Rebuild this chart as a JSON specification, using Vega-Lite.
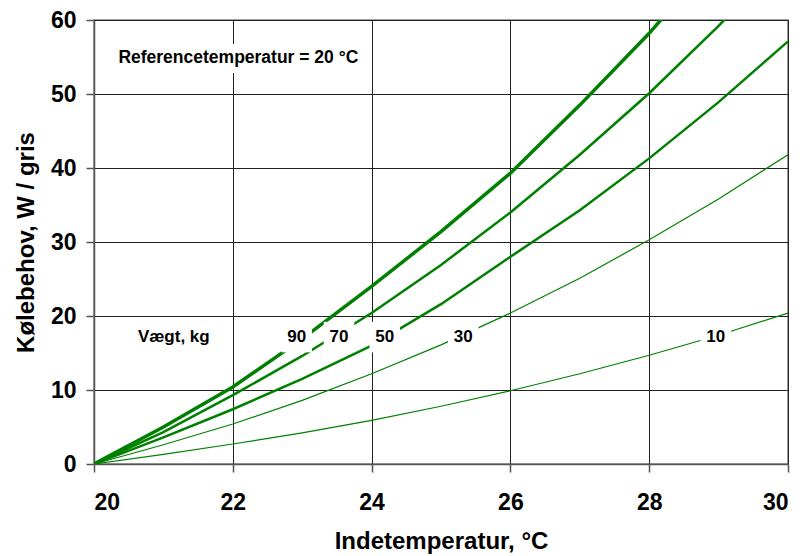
{
  "$schema": "https://vega.github.io/schema/vega-lite/v6.json",
  "width": 694,
  "height": 444,
  "autosize": {"type": "none"},
  "padding": {"left": 94, "top": 20, "right": 15, "bottom": 92},
  "background": "white",
  "config": {
    "font": "Liberation Sans",
    "view": {"stroke": "#808080", "strokeWidth": 1.5},
    "axis": {
      "grid": true,
      "gridColor": "#222222",
      "gridOpacity": 1,
      "gridWidth": 1,
      "domain": true,
      "domainColor": "#555555",
      "domainWidth": 1.5,
      "tickColor": "#555555",
      "tickSize": 8,
      "tickWidth": 1.5,
      "labelFont": "Liberation Sans",
      "labelFontSize": 23,
      "labelFontWeight": "bold",
      "labelColor": "black",
      "titleFont": "Liberation Sans",
      "titleFontSize": 24,
      "titleFontWeight": "bold",
      "titleColor": "black"
    }
  },
  "datasets": {
    "curves": [
      {"t": 20, "q": 0, "w": 10}, {"t": 21, "q": 1.3, "w": 10}, {"t": 22, "q": 2.7, "w": 10}, {"t": 23, "q": 4.2, "w": 10}, {"t": 24, "q": 5.9, "w": 10}, {"t": 25, "q": 7.8, "w": 10}, {"t": 26, "q": 9.9, "w": 10}, {"t": 27, "q": 12.2, "w": 10}, {"t": 28, "q": 14.7, "w": 10}, {"t": 29, "q": 17.4, "w": 10}, {"t": 30, "q": 20.4, "w": 10},
      {"t": 20, "q": 0, "w": 30}, {"t": 21, "q": 2.6, "w": 30}, {"t": 22, "q": 5.4, "w": 30}, {"t": 23, "q": 8.6, "w": 30}, {"t": 24, "q": 12.2, "w": 30}, {"t": 25, "q": 16.1, "w": 30}, {"t": 26, "q": 20.4, "w": 30}, {"t": 27, "q": 25.1, "w": 30}, {"t": 28, "q": 30.3, "w": 30}, {"t": 29, "q": 35.8, "w": 30}, {"t": 30, "q": 41.8, "w": 30},
      {"t": 20, "q": 0, "w": 50}, {"t": 21, "q": 3.6, "w": 50}, {"t": 22, "q": 7.4, "w": 50}, {"t": 23, "q": 11.5, "w": 50}, {"t": 24, "q": 16.0, "w": 50}, {"t": 25, "q": 21.6, "w": 50}, {"t": 26, "q": 28.0, "w": 50}, {"t": 27, "q": 34.3, "w": 50}, {"t": 28, "q": 41.3, "w": 50}, {"t": 29, "q": 48.9, "w": 50}, {"t": 30, "q": 57.1, "w": 50},
      {"t": 20, "q": 0, "w": 70}, {"t": 21, "q": 4.3, "w": 70}, {"t": 22, "q": 9.3, "w": 70}, {"t": 23, "q": 14.6, "w": 70}, {"t": 24, "q": 20.4, "w": 70}, {"t": 25, "q": 26.9, "w": 70}, {"t": 26, "q": 34.0, "w": 70}, {"t": 27, "q": 41.8, "w": 70}, {"t": 28, "q": 50.1, "w": 70}, {"t": 29, "q": 59.2, "w": 70}, {"t": 30, "q": 69.0, "w": 70},
      {"t": 20, "q": 0, "w": 90}, {"t": 21, "q": 5.0, "w": 90}, {"t": 22, "q": 10.4, "w": 90}, {"t": 23, "q": 16.9, "w": 90}, {"t": 24, "q": 24.0, "w": 90}, {"t": 25, "q": 31.4, "w": 90}, {"t": 26, "q": 39.3, "w": 90}, {"t": 27, "q": 48.5, "w": 90}, {"t": 28, "q": 58.2, "w": 90}, {"t": 29, "q": 69.0, "w": 90}, {"t": 30, "q": 80.0, "w": 90}
    ],
    "labels": [
      {"t": 22.92, "q": 17.15, "label": "90"},
      {"t": 23.53, "q": 17.15, "label": "70"},
      {"t": 24.19, "q": 17.15, "label": "50"},
      {"t": 25.32, "q": 17.15, "label": "30"},
      {"t": 28.96, "q": 17.15, "label": "10"}
    ],
    "notes": [
      {"t": 21.15, "q": 17.15, "label": "Vægt, kg"}
    ],
    "ref": [
      {"t": 22.08, "q": 54.8, "label": "Referencetemperatur = 20 °C"}
    ]
  },
  "layer": [
    {
      "data": {"name": "curves"},
      "transform": [{"filter": "datum.w <= 30"}],
      "mark": {"type": "line", "clip": true, "color": "#008000", "strokeWidth": 1.2},
      "encoding": {
        "x": {
          "field": "t", "type": "quantitative",
          "scale": {"domain": [20, 30], "nice": false, "zero": false},
          "axis": {"values": [20, 22, 24, 26, 28, 30], "format": "d", "title": "Indetemperatur, °C", "labelPadding": 19, "titlePadding": 15}
        },
        "y": {
          "field": "q", "type": "quantitative",
          "scale": {"domain": [0, 60], "nice": false},
          "axis": {"values": [0, 10, 20, 30, 40, 50, 60], "format": "d", "title": "Kølebehov, W / gris", "labelPadding": 10, "titlePadding": 12}
        },
        "detail": {"field": "w", "type": "nominal"}
      }
    },
    {
      "data": {"name": "curves"},
      "transform": [{"filter": "datum.w == 50 || datum.w == 70"}],
      "mark": {"type": "line", "clip": true, "color": "#008000", "strokeWidth": 2.5},
      "encoding": {
        "x": {"field": "t", "type": "quantitative"},
        "y": {"field": "q", "type": "quantitative"},
        "detail": {"field": "w", "type": "nominal"}
      }
    },
    {
      "data": {"name": "curves"},
      "transform": [{"filter": "datum.w == 90"}],
      "mark": {"type": "line", "clip": true, "color": "#008000", "strokeWidth": 3.5},
      "encoding": {
        "x": {"field": "t", "type": "quantitative"},
        "y": {"field": "q", "type": "quantitative"}
      }
    },
    {
      "data": {"name": "labels"},
      "mark": {"type": "point", "shape": "M-1,-1H1V1H-1Z", "filled": true, "fill": "white", "opacity": 1, "strokeWidth": 0, "size": 930},
      "encoding": {
        "x": {"field": "t", "type": "quantitative"},
        "y": {"field": "q", "type": "quantitative"}
      }
    },
    {
      "data": {"name": "ref"},
      "mark": {"type": "point", "shape": "M-8.7,-1H8.7V1H-8.7Z", "filled": true, "fill": "white", "opacity": 1, "strokeWidth": 0, "size": 841},
      "encoding": {
        "x": {"field": "t", "type": "quantitative"},
        "y": {"field": "q", "type": "quantitative"}
      }
    },
    {
      "data": {"name": "labels"},
      "mark": {"type": "text", "font": "Liberation Sans", "fontWeight": "bold", "fontSize": 17, "color": "black", "align": "center", "baseline": "middle"},
      "encoding": {
        "x": {"field": "t", "type": "quantitative"},
        "y": {"field": "q", "type": "quantitative"},
        "text": {"field": "label"}
      }
    },
    {
      "data": {"name": "notes"},
      "mark": {"type": "text", "font": "Liberation Sans", "fontWeight": "bold", "fontSize": 17, "color": "black", "align": "center", "baseline": "middle"},
      "encoding": {
        "x": {"field": "t", "type": "quantitative"},
        "y": {"field": "q", "type": "quantitative"},
        "text": {"field": "label"}
      }
    },
    {
      "data": {"name": "ref"},
      "mark": {"type": "text", "font": "Liberation Sans", "fontWeight": "bold", "fontSize": 17.5, "color": "black", "align": "center", "baseline": "middle"},
      "encoding": {
        "x": {"field": "t", "type": "quantitative"},
        "y": {"field": "q", "type": "quantitative"},
        "text": {"field": "label"}
      }
    }
  ]
}
